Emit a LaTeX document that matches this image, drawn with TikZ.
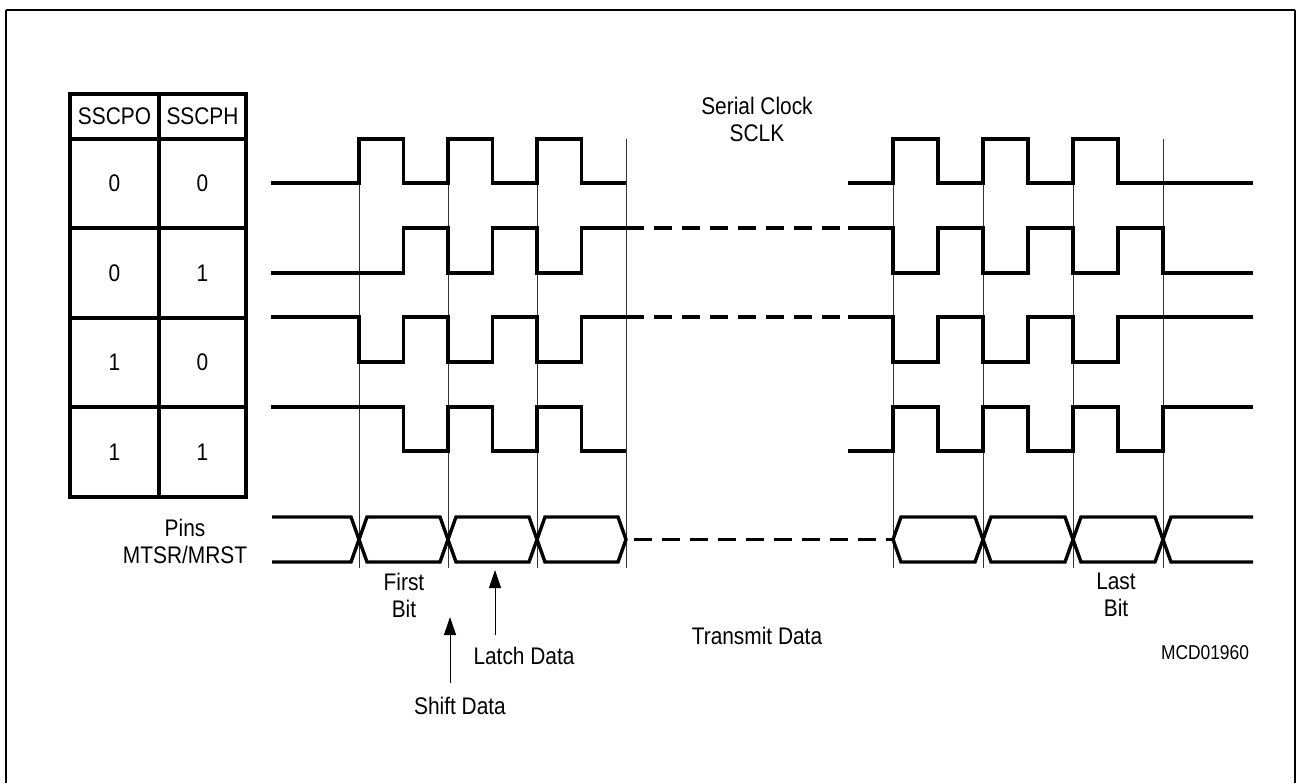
\documentclass[tikz,border=0pt]{standalone}
\usepackage{fontspec}
\setmainfont{Liberation Sans}[FakeStretch=0.87]
\usetikzlibrary{arrows.meta, positioning}
\tikzset{
  wave/.style={line width=1.7pt, line join=miter},
  gapline/.style={wave, dash pattern=on 9pt off 5pt},
  grid/.style={line width=1.7pt},
  tick/.style={line width=0.5pt, color=black!80},
  lbl/.style={font=\fontsize{12}{13.5}\selectfont, align=center, inner sep=0pt},
  tag/.style={font=\fontsize{10}{11}\selectfont, inner sep=0pt},
  arrow/.style={-{Triangle[width=6pt,length=9pt]}, line width=0.5pt}
}

\begin{document}
\begin{tikzpicture}[x=0.5pt, y=-0.5pt]
  \useasboundingbox (0,0) rectangle (1296,783);
  % frame
  \draw[line width=0.9pt] (6,783) -- (6,10);
  \draw[line width=1.4pt] (5.5,10) -- (1295,10);
  \draw[line width=0.6pt] (1295,10) -- (1295,783);

  % mode table
  \draw[grid] (70,94) rectangle (246,497);
  \draw[grid] (159,94) -- (159,497);
  \foreach \y in {139,228,318,407} \draw[grid] (70,\y) -- (246,\y);
  \node[lbl] (hpo) at (114.5,116.5) {SSCPO};
  \node[lbl] (hph) at (202.5,116.5) {SSCPH};
  \foreach \y/\po/\ph [count=\i] in {183.5/0/0, 273/0/1, 362.5/1/0, 452/1/1} {
    \node[lbl] (po\i) at (114.5,\y) {\po};
    \node[lbl] (ph\i) at (202.5,\y) {\ph};
  }

  % bit cell markers
  \foreach \x in {359,448,537,626,893,983,1073,1163} \draw[tick] (\x,139) -- (\x,568);

  % SSCPO=0, SSCPH=0
  \draw[wave] (271,183) foreach \x in {359,448,537} { -- (\x,183) -- (\x,139) -- ({\x+44.5},139) -- ({\x+44.5},183) } -- (626,183);
  \draw[wave] (848,183) foreach \x in {893,983,1073} { -- (\x,183) -- (\x,139) -- ({\x+45},139) -- ({\x+45},183) } -- (1253,183);
  % SSCPO=0, SSCPH=1
  \draw[wave] (271,273) foreach \x in {403.5,492.5} { -- (\x,273) -- (\x,228) -- ({\x+44.5},228) -- ({\x+44.5},273) } -- (581.5,273) -- (581.5,228) -- (626,228);
  \draw[gapline] (626,228) -- (848,228);
  \draw[wave] (848,228) foreach \x in {893,983,1073} { -- (\x,228) -- (\x,273) -- ({\x+45},273) -- ({\x+45},228) } -- (1163,228) -- (1163,273) -- (1253,273);
  % SSCPO=1, SSCPH=0
  \draw[wave] (271,317) foreach \x in {359,448,537} { -- (\x,317) -- (\x,362) -- ({\x+44.5},362) -- ({\x+44.5},317) } -- (626,317);
  \draw[gapline] (626,317) -- (848,317);
  \draw[wave] (848,317) foreach \x in {893,983,1073} { -- (\x,317) -- (\x,362) -- ({\x+45},362) -- ({\x+45},317) } -- (1253,317);
  % SSCPO=1, SSCPH=1
  \draw[wave] (271,407) foreach \x in {403.5,492.5} { -- (\x,407) -- (\x,451) -- ({\x+44.5},451) -- ({\x+44.5},407) } -- (581.5,407) -- (581.5,451) -- (626,451);
  \draw[wave] (848,451) foreach \x in {893,983,1073} { -- (\x,451) -- (\x,407) -- ({\x+45},407) -- ({\x+45},451) } -- (1163,451) -- (1163,407) -- (1253,407);

  % data on MTSR/MRST
  \draw[wave] (272,517) -- (351,517) -- (367,562) -- (440,562) -- (456,517) -- (529,517) -- (545,562) -- (618,562) -- (626,539.5)
    -- (618,517) -- (545,517) -- (529,562) -- (456,562) -- (440,517) -- (367,517) -- (351,562) -- (272,562);
  \draw[gapline, shorten <=4pt] (626,539.5) -- (893,539.5);
  \draw[wave] (1253,562) -- (1171,562) -- (1155,517) -- (1081,517) -- (1065,562) -- (991,562) -- (975,517) -- (901,517) -- (893,539.5)
    -- (901,562) -- (975,562) -- (991,517) -- (1065,517) -- (1081,562) -- (1155,562) -- (1171,517) -- (1253,517);

  % labels
  \node[lbl] (sclk) at (757,119) {Serial Clock\\SCLK};
  \node[lbl] (pins) at (185,541) {Pins\\MTSR/MRST};
  \node[lbl] (first) at (404,595) {First\\Bit};
  \node[lbl] (last) at (1116,595) {Last\\Bit};
  \node[lbl] (txd) at (757,636) {Transmit Data};
  \node[lbl] (latch) at (524,656) {Latch Data};
  \node[lbl] (shift) at (460,706) {Shift Data};
  \node[tag] (mcd) at (1205,653) {MCD01960};

  \coordinate (latchtip) at (495,570);
  \coordinate (shifttip) at (450,617);
  \draw[arrow, shorten <=6pt] (latch.north -| latchtip) -- (latchtip);
  \draw[arrow, shorten <=7pt] (shift.north -| shifttip) -- (shifttip);
\end{tikzpicture}
\end{document}
